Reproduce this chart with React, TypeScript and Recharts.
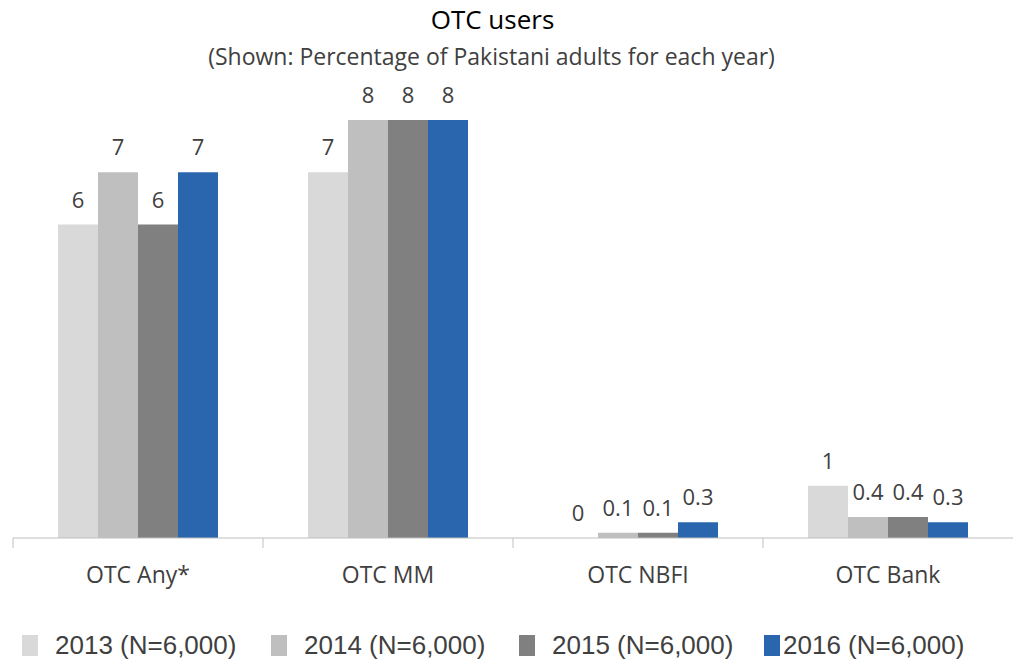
import React from 'react';
import { BarChart, Bar, XAxis, YAxis, LabelList, Rectangle } from 'recharts';

const categories = ['OTC Any*', 'OTC MM', 'OTC NBFI', 'OTC Bank'];
const y2013 = [6, 7, 0, 1];
const y2014 = [7, 8, 0.1, 0.4];
const y2015 = [6, 8, 0.1, 0.4];
const y2016 = [7, 8, 0.3, 0.3];
const seriesNames = ['2013 (N=6,000)', '2014 (N=6,000)', '2015 (N=6,000)', '2016 (N=6,000)'];
const seriesKeys = ['y2013', 'y2014', 'y2015', 'y2016'];
const colors = ['#d9d9d9', '#bfbfbf', '#808080', '#2966ae'];

const data = categories.map((c, i) => ({
  name: c,
  y2013: y2013[i],
  y2014: y2014[i],
  y2015: y2015[i],
  y2016: y2016[i],
}));

const W = 1013;
const H = 660;
const LEFT = 13;
const FONT = '"Open Sans", sans-serif';
const LEGEND_FONT = '"Liberation Sans", Arial, sans-serif';
const TEXT = '#404040';

const Tick = (props: any) => {
  const { x, y, payload } = props;
  const band = (W - LEFT) / categories.length;
  const bx = x - band / 2;
  return (
    <g>
      <line x1={bx} y1={y - 8} x2={bx} y2={y + 2} stroke="#bfbfbf" strokeWidth={1} />
      <text x={x} y={y + 37} textAnchor="middle" fontSize={23} fill={TEXT} fontFamily={FONT}>
        {payload.value}
      </text>
    </g>
  );
};

const ValueLabel = (props: any) => {
  const { x, y, width, height, value } = props;
  const top = Number(y) + (Number(height) < 1 ? Number(height) : 0);
  return (
    <text x={Number(x) + Number(width) / 2} y={top - 17} textAnchor="middle" fontSize={22} fill={TEXT} fontFamily={FONT}>
      {value}
    </text>
  );
};

export default function App() {
  return (
    <div style={{ position: 'absolute', left: 0, top: 0, width: W, height: H, background: '#fff', fontFamily: FONT }}>
      <div style={{ position: 'absolute', top: 1, left: 0, width: 985, textAlign: 'center', fontSize: 26, color: '#000' }}>OTC users</div>
      <div style={{ position: 'absolute', top: 40, left: 0, width: 983, textAlign: 'center', fontSize: 23, color: TEXT }}>
        (Shown: Percentage of Pakistani adults for each year)
      </div>
      <BarChart
        width={W}
        height={H}
        data={data}
        margin={{ top: 120, right: 0, left: LEFT, bottom: 62 }}
        barCategoryGap="18%"
        barGap={0}
      >
        <YAxis hide domain={[0, 8]} />
        <XAxis
          dataKey="name"
          height={60}
          axisLine={{ stroke: '#bfbfbf' }}
          tickLine={false}
          tick={<Tick />}
          interval={0}
        />
        {seriesKeys.map((k, i) => (
          <Bar
            key={k}
            dataKey={k}
            fill={colors[i]}
            isAnimationActive={false}
            minPointSize={0.5}
            shape={(p: any) => (p.payload && p.payload[k] > 0 ? <Rectangle {...p} /> : <g />)}
          >
            <LabelList dataKey={k} content={<ValueLabel />} />
          </Bar>
        ))}
      </BarChart>
      <div style={{ position: 'absolute', top: 630, left: 0, width: W, height: 30, fontSize: 26, color: TEXT, fontFamily: LEGEND_FONT }}>
        {seriesNames.map((n, i) => (
          <div key={n} style={{ position: 'absolute', top: 0, left: [22, 271, 519, 764][i], height: 30, display: 'flex', alignItems: 'center', whiteSpace: 'nowrap' }}>
            <span style={{ display: 'inline-block', width: 16, height: 21, background: colors[i], marginRight: i === 3 ? 3 : 17 }} />
            <span>{n}</span>
          </div>
        ))}
      </div>
    </div>
  );
}
